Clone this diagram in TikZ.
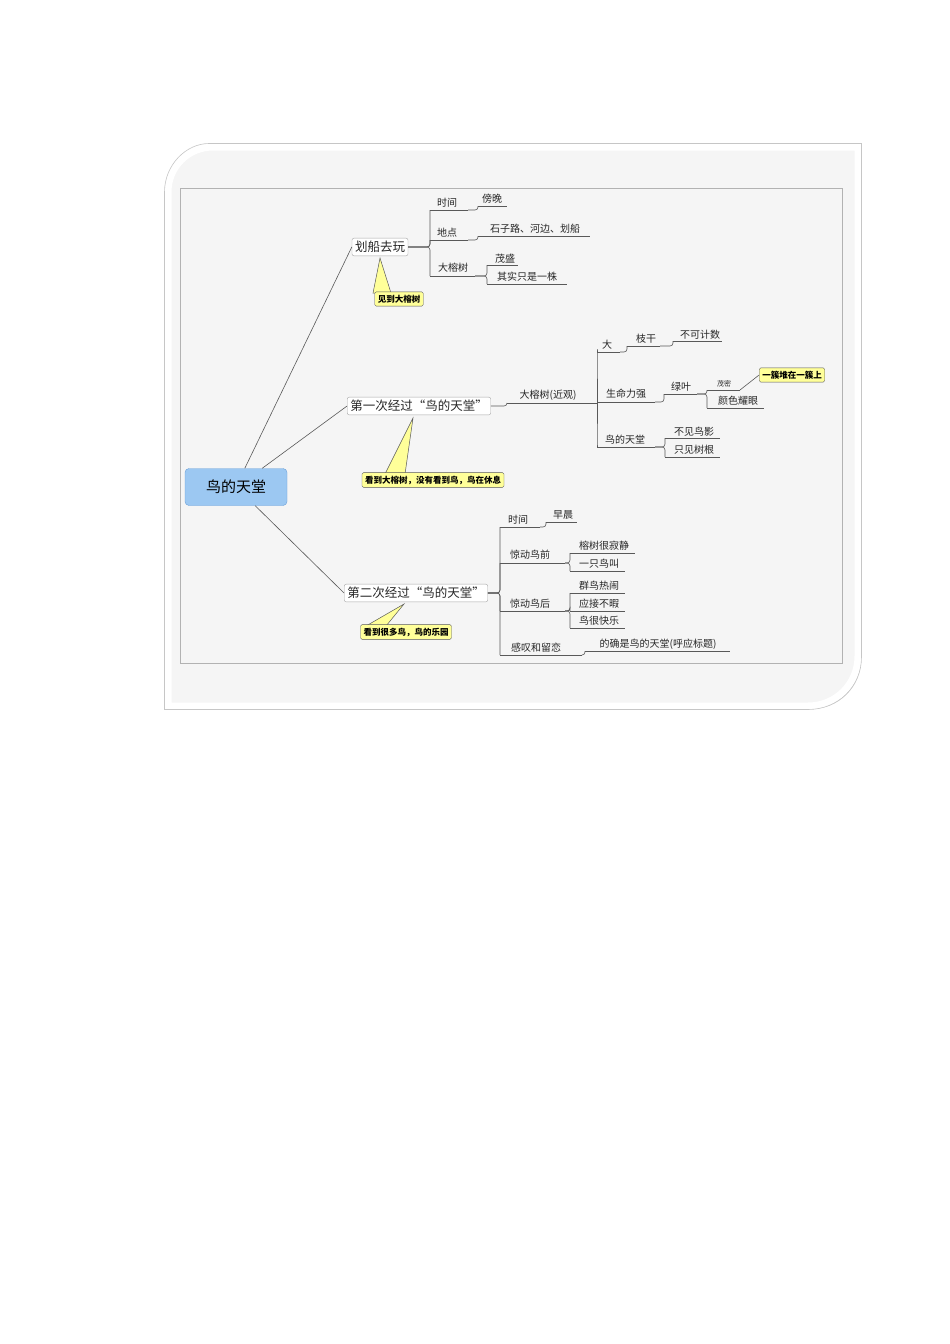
\documentclass[tikz,border=0pt]{standalone}
\usepackage{fontspec}
\newfontfamily\cjk{Noto Sans CJK SC}
\definecolor{callfill}{HTML}{FFFF99}
\definecolor{rootfill}{HTML}{9CC8F2}
\definecolor{rootedge}{HTML}{6A9FD8}
\tikzset{
 ln/.style={draw=gray!70!black,line width=0.6pt,rounded corners=3pt},
 lab/.style={font=\cjk\fontsize{10}{11}\selectfont,inner sep=1pt,text=black!85},
 topic/.style={draw=gray!70,fill=white,rounded corners=2pt,font=\cjk\fontsize{12.5}{13}\selectfont,inner sep=3pt,text=black!85},
 callout/.style={draw=gray!70!black,fill=callfill,rounded corners=1.5pt,font=\cjk\bfseries\fontsize{8.5}{9}\selectfont,inner sep=3pt},
 tail/.style={draw=gray!70!black,fill=callfill,line width=0.5pt}
}
\newcommand\leaf[7]{\node[lab] (#1) at (#2,#3) {#7};\coordinate (#1-s) at (#5,#4);\coordinate (#1-e) at (#6,#4);\draw[ln] (#1-s) -- (#1-e);}
\begin{document}
\begin{tikzpicture}[x=1pt,y=-1pt]
\useasboundingbox (0,0) rectangle (950,1344);
\fill[white] (0,0) rectangle (950,1344);
% card shadow
\fill[gray!30] (215,150) -- (861,150) -- (861,659) .. controls (861,687) and (839,709) .. (811,709) -- (171,709) -- (171,195) .. controls (171,170) and (191,150) .. (215,150) -- cycle;
\path[fill=gray!8,draw=white,line width=7pt] (213,147) -- (858,147) -- (858,656) .. controls (858,684) and (836,706) .. (808,706) -- (168,706) -- (168,192) .. controls (168,167) and (188,147) .. (213,147) -- cycle;
\draw[gray!45,line width=0.6pt] (209,143.5) -- (861.5,143.5) -- (861.5,657) .. controls (861.5,687) and (838,709.5) .. (808,709.5) -- (164.5,709.5) -- (164.5,192) .. controls (164.5,165) and (186,143.5) .. (209,143.5) -- cycle;
\draw[gray!60,line width=0.8pt] (180,188) rectangle (842,663);
% root
\node[draw=rootedge,fill=rootfill,rounded corners=4pt,minimum width=102pt,minimum height=37pt,font=\cjk\fontsize{15}{16}\selectfont] (root) at (236,487) {鸟的天堂};
% main topics
\node[topic] (t1) at (380,247) {划船去玩};
\node[topic] (t2) at (419,406) {第一次经过“鸟的天堂”};
\node[topic] (t3) at (416,593) {第二次经过“鸟的天堂”};
\draw[ln] ([xshift=60pt]root.north west) -- (t1.west);
\draw[ln] ([xshift=-25pt]root.north east) -- (t2.west);
\draw[ln] ([xshift=-32pt]root.south east) -- (t3.west);
% callouts
\draw[tail] (380,258) -- (373,293) -- (391,293) -- cycle;
\node[callout] (c1) at (399,299) {见到大榕树};
\draw[tail] (413,418) -- (385,474) -- (405,474) -- cycle;
\node[callout] (c2) at (433,480) {看到大榕树，没有看到鸟，鸟在休息};
\draw[tail] (404,604) -- (366,626) -- (386,626) -- cycle;
\node[callout] (c3) at (406,632) {看到很多鸟，鸟的乐园};
% branch 1
\leaf{a1}{447}{203}{210}{430}{468}{时间}
\leaf{a1a}{492}{199}{206}{478}{507}{傍晚}
\leaf{a2}{447}{233}{240}{430}{468}{地点}
\leaf{a2a}{535}{229}{236}{478}{590}{石子路、河边、划船}
\leaf{a3}{453}{268}{276}{430}{475}{大榕树}
\leaf{a3a}{505}{259}{265}{487}{518}{茂盛}
\leaf{a3b}{527}{277}{284}{487}{567}{其实只是一株}
\draw[ln] (t1.east) -| (a1-s);
\draw[ln] (t1.east) -| (a2-s);
\draw[ln] (t1.east) -| (a3-s);
\draw[ln] (a1-e) -| (a1a-s);
\draw[ln] (a2-e) -| (a2a-s);
\draw[ln] (a3-e) -| (a3a-s);
\draw[ln] (a3-e) -| (a3b-s);
% branch 2
\leaf{b0}{548}{395}{403}{507}{597}{大榕树(近观)}
\draw[ln] (t2.east) -| (b0-s);
\leaf{b1}{607}{345}{352}{597}{620}{大}
\leaf{b1a}{646}{339}{346}{627}{660}{枝干}
\leaf{b1b}{700}{335}{341}{673}{722}{不可计数}
\leaf{b2}{626}{394}{402}{597}{655}{生命力强}
\leaf{b2a}{681}{387}{394}{664}{697}{绿叶}
\leaf{b2b}{724}{384}{390}{707}{740}{\fontsize{7}{8}\selectfont 茂密}
\leaf{b2c}{738}{401}{408}{707}{764}{颜色耀眼}
\leaf{b3}{625}{440}{447}{597}{655}{鸟的天堂}
\leaf{b3a}{694}{432}{438}{665}{720}{不见鸟影}
\leaf{b3b}{694}{450}{457}{665}{720}{只见树根}
\draw[ln] (b0-e) |- (b1-s);
\draw[ln] (b0-e) |- (b3-s);
\draw[ln] (b0-e) -- (b2-s);
\draw[ln] (b1-e) -| (b1a-s);
\draw[ln] (b1a-e) -| (b1b-s);
\draw[ln] (b2-e) -| (b2a-s);
\draw[ln] (b2a-e) -| (b2b-s);
\draw[ln] (b2a-e) -| (b2c-s);
\draw[ln] (b3-e) -| (b3a-s);
\draw[ln] (b3-e) -| (b3b-s);
\node[callout] (c4) at (792,375) {一簇堆在一簇上};
\draw[ln] (b2b-e) -- (c4.west);
% branch 3
\leaf{d1}{518}{520}{527}{500}{540}{时间}
\leaf{d1a}{563}{515}{522}{546}{577}{早晨}
\leaf{d2}{530}{555}{563}{500}{565}{惊动鸟前}
\leaf{d2a}{604}{546}{553}{570}{635}{榕树很寂静}
\leaf{d2b}{599}{564}{571}{570}{625}{一只鸟叫}
\leaf{d3}{530}{604}{611}{500}{565}{惊动鸟后}
\leaf{d3a}{599}{586}{593}{570}{625}{群鸟热闹}
\leaf{d3b}{599}{604}{611}{570}{625}{应接不暇}
\leaf{d3c}{599}{621}{628}{570}{625}{鸟很快乐}
\leaf{d4}{536}{648}{655}{500}{582}{感叹和留恋}
\leaf{d4a}{658}{644}{651}{585}{730}{的确是鸟的天堂(呼应标题)}
\draw[ln] (t3.east) -| (d1-s);
\draw[ln] (t3.east) -| (d2-s);
\draw[ln] (t3.east) -| (d3-s);
\draw[ln] (t3.east) -| (d4-s);
\draw[ln] (d1-e) -| (d1a-s);
\draw[ln] (d2-e) -| (d2a-s);
\draw[ln] (d2-e) -| (d2b-s);
\draw[ln] (d3-e) -| (d3a-s);
\draw[ln] (d3-e) -| (d3b-s);
\draw[ln] (d3-e) -| (d3c-s);
\draw[ln] (d4-e) -| (d4a-s);
\end{tikzpicture}
\end{document}
